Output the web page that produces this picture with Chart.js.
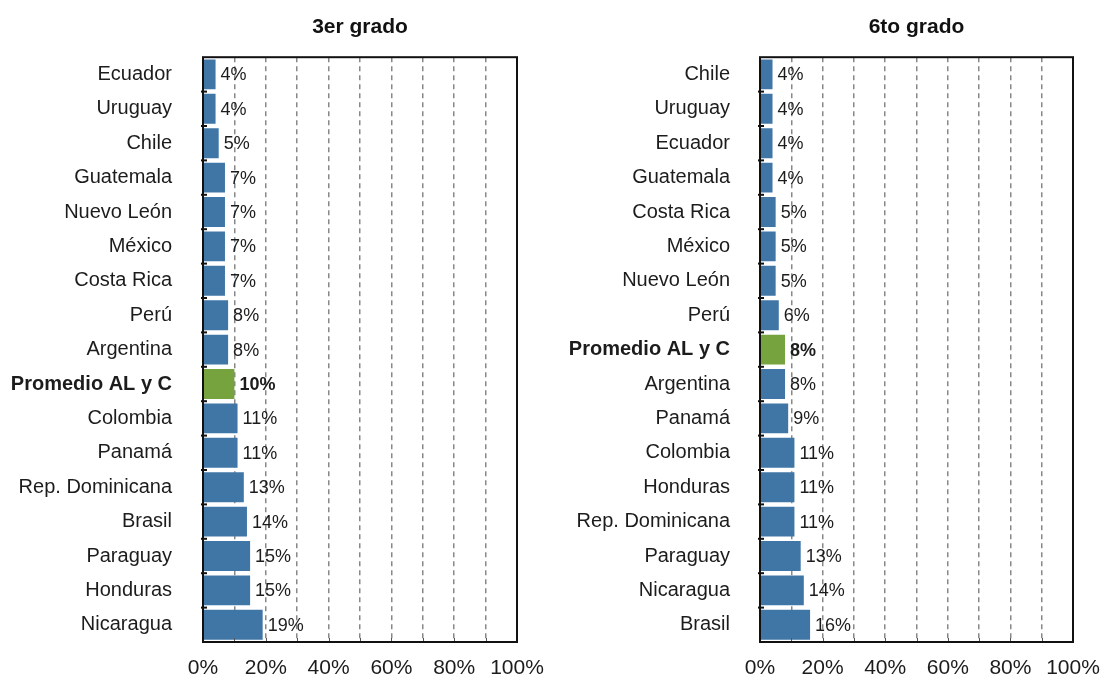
<!DOCTYPE html>
<html lang="es">
<head>
<meta charset="utf-8">
<title>3er y 6to grado</title>
<script src="https://cdn.jsdelivr.net/npm/chart.js"></script>
<style>
  html, body { margin: 0; padding: 0; background: #fff; }
  #wrap { width: 1106px; height: 679px; display: flex; }
  #wrap canvas { display: block; }
</style>
</head>
<body>
<div id="wrap">
  <canvas id="grafico-3er" width="553" height="679"></canvas>
  <canvas id="grafico-6to" width="553" height="679"></canvas>
</div>
<script>
// Datos: porcentaje por país
const paises3er = ["Ecuador", "Uruguay", "Chile", "Guatemala", "Nuevo León", "México", "Costa Rica", "Perú", "Argentina",
    "Promedio AL y C", "Colombia", "Panamá", "Rep. Dominicana", "Brasil", "Paraguay", "Honduras", "Nicaragua"];
const valores3er = [4, 4, 5, 7, 7, 7, 7, 8, 8, 10, 11, 11, 13, 14, 15, 15, 19];

const paises6to = ["Chile", "Uruguay", "Ecuador", "Guatemala", "Costa Rica", "México", "Nuevo León", "Perú",
    "Promedio AL y C", "Argentina", "Panamá", "Colombia", "Honduras", "Rep. Dominicana", "Paraguay", "Nicaragua", "Brasil"];
const valores6to = [4, 4, 4, 4, 5, 5, 5, 6, 8, 8, 9, 11, 11, 11, 13, 14, 16];

const ticksEjeX = [0, 20, 40, 60, 80, 100];
const promedio = "Promedio AL y C";

const FONTE = "'Liberation Sans', Arial, sans-serif";
const AZUL = "#4076a6";
const VERDE = "#76a33d";
const TEXTO = "#1c1c1c";

// Rótulos com o valor ao lado de cada barra
const rotulosBarras = {
    id: "rotulosBarras",
    afterDatasetsDraw(chart) {
        const ctx = chart.ctx;
        const meta = chart.getDatasetMeta(0);
        const labels = chart.data.labels;
        const valores = chart.data.datasets[0].data;
        ctx.save();
        ctx.fillStyle = TEXTO;
        ctx.textBaseline = "middle";
        ctx.textAlign = "left";
        meta.data.forEach((bar, i) => {
            const negrito = labels[i] === promedio ? "bold " : "";
            ctx.font = negrito + "18px " + FONTE;
            ctx.fillText(valores[i] + "%", bar.x + 5, bar.y + 1);
        });
        ctx.restore();
    }
};

// Moldura da área do gráfico e marcas internas dos eixos
const moldura = {
    id: "moldura",
    afterDraw(chart) {
        const { ctx, chartArea: a, scales } = chart;
        ctx.save();
        // marcas do eixo x (cada 10%)
        ctx.strokeStyle = "#555";
        ctx.lineWidth = 1;
        for (let v = 10; v < 100; v += 10) {
            const x = Math.round(scales.x.getPixelForValue(v)) + 0.5;
            ctx.beginPath();
            ctx.moveTo(x, a.bottom);
            ctx.lineTo(x, a.bottom - 4);
            ctx.stroke();
        }
        // marcas do eixo de categorias (entre barras)
        ctx.strokeStyle = "#111";
        ctx.lineWidth = 2;
        const n = chart.data.labels.length;
        for (let i = 0; i < n - 1; i++) {
            const y = (scales.y.getPixelForValue(i) + scales.y.getPixelForValue(i + 1)) / 2;
            ctx.beginPath();
            ctx.moveTo(a.left - 2, y);
            ctx.lineTo(a.left + 4, y);
            ctx.stroke();
        }
        ctx.strokeRect(a.left, a.top, a.right - a.left, a.bottom - a.top);
        ctx.restore();
    }
};

// sem folga extra dos rótulos: a área do gráfico fica onde o layout manda
function semFolga(scale) {
    scale.paddingLeft = 0;
    scale.paddingRight = 0;
    scale.paddingTop = 0;
    scale.paddingBottom = 0;
}

function criarGrafico(id, titulo, paises, valores, larguraEixoY, padDireita, padRotulos) {
    const ctx = document.getElementById(id).getContext("2d");
    return new Chart(ctx, {
        type: "bar",
        data: {
            labels: paises,
            datasets: [{
                data: valores,
                backgroundColor: paises.map(p => p === promedio ? VERDE : AZUL),
                borderWidth: 0,
                barPercentage: 0.87,
                categoryPercentage: 1
            }]
        },
        options: {
            indexAxis: "y",
            responsive: false,
            animation: false,
            devicePixelRatio: 1,
            layout: { padding: { left: 0, right: padDireita, top: 0, bottom: 0 } },
            plugins: {
                legend: { display: false },
                tooltip: { enabled: false },
                title: {
                    display: true,
                    text: titulo,
                    fullSize: false,
                    color: "#111",
                    font: { family: FONTE, size: 21, weight: "bold" },
                    padding: { top: 15, bottom: 17 }
                }
            },
            scales: {
                x: {
                    min: 0,
                    max: 100,
                    afterFit(scale) { scale.height = 37; semFolga(scale); },
                    afterBuildTicks(scale) {
                        scale.ticks = Array.from({ length: 11 }, (_, i) => ({ value: i * 10 }));
                    },
                    ticks: {
                        autoSkip: false,
                        maxRotation: 0,
                        padding: 14,
                        color: TEXTO,
                        font: { family: FONTE, size: 21 },
                        callback: v => ticksEjeX.includes(v) ? v + "%" : ""
                    },
                    grid: {
                        drawTicks: false,
                        color: ctx => (ctx.tick.value === 0 || ctx.tick.value === 100) ? "rgba(0,0,0,0)" : "#888",
                        lineWidth: 1.5
                    },
                    // linhas de grade tracejadas
                    border: { display: false, dash: [5, 4] }
                },
                y: {
                    afterFit(scale) { scale.width = larguraEixoY; semFolga(scale); },
                    ticks: {
                        padding: padRotulos,
                        color: TEXTO,
                        font: ctx => ({
                            family: FONTE,
                            size: 20,
                            weight: paises[ctx.index] === promedio ? "bold" : "normal"
                        })
                    },
                    grid: { display: false, drawTicks: false },
                    border: { display: false }
                }
            }
        },
        plugins: [rotulosBarras, moldura]
    });
}

const g3 = criarGrafico("grafico-3er", "3er grado", paises3er, valores3er, 203, 36, 31);
const g6 = criarGrafico("grafico-6to", "6to grado", paises6to, valores6to, 207, 33, 30);
</script>
</body>
</html>
